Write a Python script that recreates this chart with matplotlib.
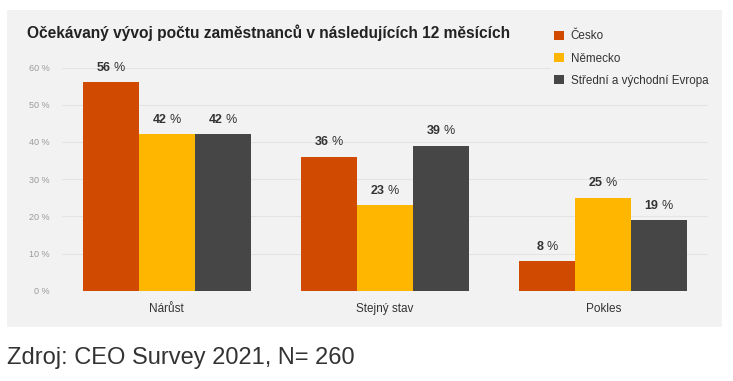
#!/usr/bin/env python3
"""Expected headcount change over the next 12 months (CEO Survey 2021)."""
import matplotlib

matplotlib.use("Agg")
import matplotlib.pyplot as plt
import numpy as np
from matplotlib.patches import Patch, Rectangle

plt.rcParams["font.family"] = ["Liberation Sans", "DejaVu Sans"]
plt.rcParams["mathtext.fontset"] = "custom"
plt.rcParams["mathtext.rm"] = "Liberation Sans"
plt.rcParams["mathtext.bf"] = "Liberation Sans:bold"

categories = ["Nárůst", "Stejný stav", "Pokles"]
series_names = ["Česko", "Německo", "Střední a východní Evropa"]
cesko = [56, 36, 8]
nemecko = [42, 23, 25]
sve = [42, 39, 19]
y_ticks = [0, 10, 20, 30, 40, 50, 60]

TITLE = "Očekávaný vývoj počtu zaměstnanců v následujících 12 měsících"
SOURCE = "Zdroj: CEO Survey 2021, N= 260"
COLORS = ["#d04a02", "#ffb600", "#464646"]
PANEL = "#f2f2f2"


def main():
    fig = plt.figure(figsize=(7.33, 3.81), dpi=100)
    # grey card behind the chart
    fig.patches.append(Rectangle((7 / 733, 1 - 327 / 381), 715 / 733, 317 / 381,
                                 transform=fig.transFigure, facecolor=PANEL,
                                 edgecolor="none", zorder=-5))

    ax = fig.add_axes([62 / 733, 1 - 290.7 / 381, 646 / 733, 223.2 / 381])
    ax.set_facecolor("none")
    x = np.arange(len(categories))
    width = 0.257
    for i, (vals, color) in enumerate(zip([cesko, nemecko, sve], COLORS)):
        pos = x + (i - 1) * width
        ax.bar(pos, vals, width, color=color, zorder=3, label=series_names[i])
        for px, v in zip(pos, vals):
            ax.annotate(f"$\\mathbf{{{v}}}$ %", (px, v), xytext=(0, 6),
                        textcoords="offset points", ha="center", va="bottom",
                        fontsize=9, color="#333333", annotation_clip=False, zorder=4)

    ax.set_xlim(-0.48, 2.48)
    ax.set_ylim(0, 60)
    ax.set_yticks(y_ticks)
    ax.set_yticklabels([f"{t} %" for t in y_ticks])
    ax.set_xticks(x)
    ax.set_xticklabels(categories)
    ax.tick_params(axis="y", length=0, pad=9, labelsize=6.5, labelcolor="#9a9a9a")
    ax.tick_params(axis="x", length=0, pad=8.5, labelsize=8.5, labelcolor="#333333")
    ax.grid(axis="y", color="#e4e4e4", linewidth=0.8, zorder=1)
    ax.set_axisbelow(True)
    for s in ax.spines.values():
        s.set_visible(False)

    fig.text(27 / 733, 1 - 33 / 381, TITLE, fontsize=11.2, fontweight="bold",
             color="#222222", va="center", ha="left")

    handles = [Patch(facecolor=c, edgecolor="none") for c in COLORS]
    leg = fig.legend(handles, series_names, loc="upper left",
                     bbox_to_anchor=(545 / 733, 1 - 21 / 381), frameon=True,
                     facecolor=PANEL, edgecolor="none", framealpha=1,
                     fontsize=8.4, handlelength=0.8, handleheight=0.8,
                     handletextpad=0.6, labelspacing=0.88, borderpad=0.3)
    leg.set_zorder(5)
    for t in leg.get_texts():
        t.set_color("#333333")

    fig.text(7 / 733, 1 - 358 / 381, SOURCE, fontsize=17, color="#333333",
             va="center", ha="left")

    fig.savefig("out.png", dpi=100, facecolor="white")
    plt.close(fig)


if __name__ == "__main__":
    main()
